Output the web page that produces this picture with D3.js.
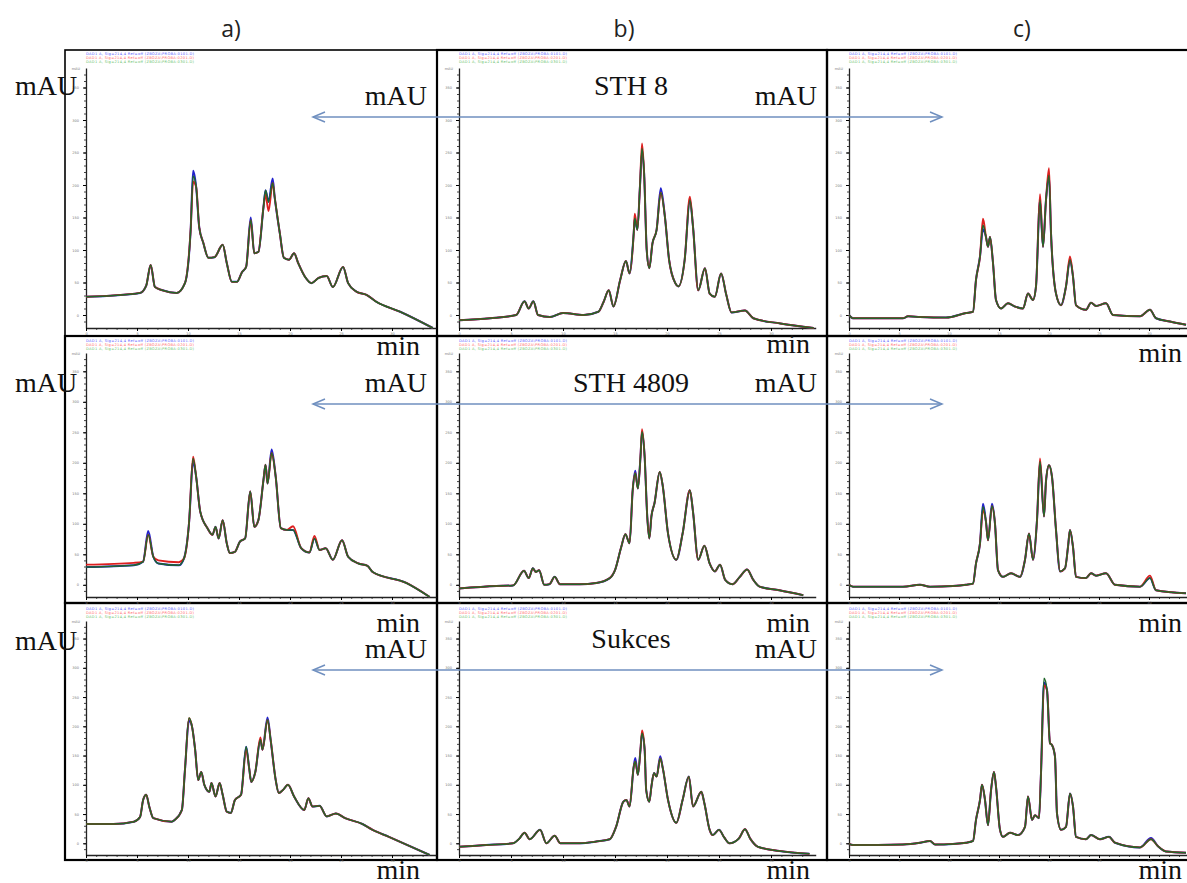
<!DOCTYPE html>
<html>
<head>
<meta charset="utf-8">
<script src="https://cdn.jsdelivr.net/npm/d3@7"></script>
<style>
  body { margin: 0; background: #fff; }
  svg { display: block; }
  .tiny text { font-family: "DejaVu Sans", sans-serif; font-size: 3.5px; fill: #777; }
</style>
</head>
<body>
<svg id="chart" width="1187" height="883"></svg>
<script>
// labels
var columnLabels = ["a)", "b)", "c)"];
var varieties = ["STH 8", "STH 4809", "Sukces"];
var yTicks = [0, 50, 100, 150, 200, 250, 300, 350];
var xTicks = [0, 5, 10, 15, 20, 25, 30];
var legendText = [
    "DAD1 A, Sig=214,4 Ref=off (ZBOZA\\PROBA-0101.D)",
    "DAD1 A, Sig=214,4 Ref=off (ZBOZA\\PROBA-0201.D)",
    "DAD1 A, Sig=214,4 Ref=off (ZBOZA\\PROBA-0301.D)"
];

// chromatograms [time (min), signal (mAU)], row 1 = STH 8
var a1 = [[0,28],[5.3,34],[5.9,45],[6.34,77],[6.76,43],[7.5,38],[8.9,34],[9.7,49],[10.26,131],[10.5,214],[10.8,197],[11.1,135],[11.5,111],[12.0,88],[12.6,89],[13.4,108],[13.8,80],[14.3,51],[14.8,51],[15.3,66],[15.7,74],[16.15,146],[16.5,95],[16.9,97],[17.4,166],[17.6,192],[17.9,174],[18.3,203],[18.5,181],[19.0,126],[19.4,88],[19.9,85],[20.4,95],[20.8,80],[21.5,58],[22.1,49],[22.8,57],[23.6,60],[24.2,43],[25.2,74],[25.7,49],[26.5,36],[27.5,31],[28.5,20],[30.8,5],[34.0,-20]];
var b1 = [[0,-8],[3,-5],[5.5,0],[6.3,21],[6.7,10],[7.15,21],[7.6,0],[8.75,-3],[10.0,3],[12,0],[13.4,5],[13.9,20],[14.4,38],[14.85,13],[15.5,54],[16.05,83],[16.4,64],[16.8,126],[16.9,149],[17.15,131],[17.4,198],[17.6,256],[17.8,218],[18.05,100],[18.3,72],[18.6,110],[19.0,131],[19.4,188],[19.8,151],[20.2,85],[20.8,49],[21.1,44],[21.7,85],[22.2,177],[22.5,136],[23.0,38],[23.65,72],[24.1,33],[24.6,28],[25.2,64],[25.7,31],[26.2,4],[27.5,7],[28.3,-5],[30.9,-13],[34.1,-20]];
var c1 = [[0,0],[0.4,-5],[5.4,-5],[5.9,-2],[7.1,-3],[9.7,-4],[11.7,3],[12.4,5],[12.7,54],[13.1,90],[13.4,138],[13.7,120],[13.9,105],[14.1,120],[14.4,80],[14.7,23],[15.2,10],[15.9,18],[16.6,13],[17.4,10],[17.9,33],[18.4,23],[18.7,44],[19.1,177],[19.4,105],[19.7,177],[20.0,215],[20.2,126],[20.7,33],[21.2,15],[21.7,44],[22.1,85],[22.4,59],[22.7,15],[23.7,8],[24.2,19],[24.7,14],[25.7,18],[26.4,0],[29.1,-2],[30.1,8],[30.7,-5],[32.1,-10],[33.7,-15]];
// row 2 = STH 4809
var a2 = [[0,29],[4.7,32],[5.6,38],[6.1,82],[6.6,46],[7.1,35],[9.1,32],[9.6,43],[10.1,101],[10.5,207],[10.8,177],[11.2,120],[11.9,93],[12.4,82],[12.7,95],[13.0,76],[13.4,106],[13.8,68],[14.1,52],[14.6,54],[15.1,71],[15.6,76],[16.1,153],[16.5,95],[16.9,106],[17.4,172],[17.6,197],[17.8,166],[18.2,216],[18.6,177],[19.1,93],[19.7,90],[20.3,90],[21.1,60],[21.9,53],[22.4,76],[22.9,57],[23.5,60],[24.2,41],[25.1,73],[25.7,46],[26.7,35],[27.6,31],[28.1,21],[31.4,3],[33.7,-20]];
var b2 = [[0,-6],[3.6,-2],[5.2,-1],[6.25,23],[6.7,11],[7.1,27],[7.4,21],[7.7,24],[8.2,0],[8.7,1],[9.2,13],[9.7,1],[11.6,1],[13.2,3],[14.5,11],[15.0,24],[15.6,62],[16.0,83],[16.4,68],[16.7,155],[16.95,183],[17.2,158],[17.45,210],[17.6,251],[17.85,210],[18.1,112],[18.3,76],[18.5,112],[18.8,134],[19.3,185],[19.6,161],[20.1,84],[20.9,41],[21.5,84],[22.2,155],[22.5,120],[23.0,41],[23.6,64],[24.1,35],[24.6,22],[25.1,33],[25.6,8],[26.3,1],[27.0,13],[27.7,25],[28.3,8],[28.9,-3],[30.8,-9],[33.1,-17]];
var c2 = [[0,0],[0.4,-3],[5.4,-3],[7.1,0],[8.1,-3],[10.4,-2],[11.7,0],[12.4,2],[12.7,35],[13.1,68],[13.4,128],[13.7,103],[13.9,73],[14.3,129],[14.6,100],[14.9,24],[15.4,13],[16.2,19],[17.1,13],[17.6,41],[18.0,84],[18.4,41],[18.8,106],[19.1,202],[19.5,112],[19.7,170],[20.0,196],[20.3,177],[20.7,90],[21.1,22],[21.6,27],[21.9,62],[22.1,90],[22.4,62],[22.7,13],[23.7,11],[24.2,19],[24.7,15],[25.7,19],[26.6,0],[29.1,-3],[30.1,11],[30.7,-9],[33.7,-14]];
// row 3 = Sukces
var a3 = [[0,33],[2.7,33],[4.7,37],[5.3,45],[5.6,74],[5.9,83],[6.2,63],[6.6,43],[8.4,37],[8.7,40],[9.4,57],[9.7,125],[10.1,214],[10.4,199],[10.7,160],[11.0,108],[11.3,122],[11.6,100],[12.1,88],[12.3,103],[12.7,80],[13.1,103],[13.4,83],[13.8,54],[14.2,52],[14.6,74],[15.2,83],[15.7,165],[16.0,128],[16.2,105],[16.6,122],[17.1,177],[17.3,160],[17.8,211],[18.1,177],[18.6,108],[18.9,86],[19.3,91],[19.8,100],[20.4,80],[21.4,57],[21.8,77],[22.2,63],[22.9,64],[23.6,46],[24.5,51],[25.4,43],[27.1,33],[28.1,23],[29.7,11],[33.7,-20]];
var b3 = [[0,-6],[2.6,-3],[5.2,0],[5.8,8],[6.3,18],[6.8,7],[7.8,23],[8.4,0],[9.2,13],[9.75,0],[11.6,0],[13.2,3],[14.5,7],[15.1,28],[15.8,71],[16.1,74],[16.4,63],[16.8,131],[16.95,140],[17.2,117],[17.45,160],[17.6,188],[17.85,160],[18.0,91],[18.3,71],[18.5,97],[18.75,120],[19.0,114],[19.35,145],[19.6,128],[20.1,74],[20.9,35],[21.5,74],[22.1,114],[22.5,63],[23.3,88],[23.6,68],[24.1,23],[24.4,14],[25.0,23],[25.5,10],[26.0,0],[26.9,8],[27.5,24],[28.0,8],[28.75,-6],[30.8,-13],[33.7,-18]];
var c3 = [[0,-1],[0.4,-3],[5.4,-2],[7.1,1],[8.1,4],[8.6,-2],[10.4,-1],[11.7,1],[12.4,4],[12.7,40],[13.1,74],[13.3,100],[13.6,74],[13.9,31],[14.2,90],[14.5,122],[14.7,97],[15.1,23],[15.4,11],[16.1,18],[16.9,14],[17.6,28],[17.9,80],[18.3,40],[18.6,48],[19.0,43],[19.2,120],[19.5,282],[19.8,262],[20.1,171],[20.3,168],[20.6,148],[20.8,51],[21.2,23],[21.7,28],[22.1,85],[22.4,63],[22.7,11],[23.7,7],[24.2,14],[25.1,7],[26.0,11],[26.6,1],[29.1,-7],[30.2,7],[30.9,-5],[31.7,-14],[33.7,-16]];

// where the blue and red runs part from the green one
var a1Blue = [[10.5,222],[16.15,150],[18.3,210]], a1Red = [[10.5,205],[17.6,185],[17.9,160]];
var b1Blue = [[17.6,250],[19.4,195]], b1Red = [[16.9,156],[17.6,264],[22.2,182]];
var c1Blue = [[13.4,132]], c1Red = [[13.4,148],[19.1,186],[20.0,226],[22.1,90]];
var a2Blue = [[6.1,88],[10.5,202],[18.2,222]], a2Red = [[0,33],[4.7,36],[7.1,40],[9.1,37],[10.5,210],[20.3,96],[22.4,80]];
var b2Blue = [[16.95,187]], b2Red = [[17.6,255]];
var c2Blue = [[13.4,133],[14.3,133]], c2Red = [[13.4,122],[19.1,207],[30.1,15]];
var a3Blue = [[10.1,210],[17.8,215]], a3Red = [[15.7,160],[17.1,181]];
var b3Blue = [[16.95,146],[19.35,149]], b3Red = [[17.6,193]];
var c3Blue = [[19.5,275],[30.2,9]], c3Red = [[19.5,270]];

var traces = [
    [[a1, a1Blue, a1Red], [b1, b1Blue, b1Red], [c1, c1Blue, c1Red]],
    [[a2, a2Blue, a2Red], [b2, b2Blue, b2Red], [c2, c2Blue, c2Red]],
    [[a3, a3Blue, a3Red], [b3, b3Blue, b3Red], [c3, c3Blue, c3Red]]
];

function withOverrides(main, over) {
    return main.map(function(d) {
        var o = over.find(function(p) { return p[0] === d[0]; });
        return [d[0], o ? o[1] : d[1]];
    });
}

var svg = d3.select("#chart");
var serif = "'Liberation Serif', 'Times New Roman', serif";

var boxCols = [[65, 437], [437, 827], [827, 1192]];
var boxRows = [[50, 336], [336, 603], [603, 860]];
var plotCols = [{x0: 86, k: 10.2}, {x0: 459, k: 10.4}, {x0: 849, k: 10.0}];
var plotRows = [{top: 68, bottom: 328}, {top: 353, bottom: 597}, {top: 621, bottom: 855}];
var legendY = [52, 339, 607];

// panel frames
boxRows.forEach(function(r, ri) {
    boxCols.forEach(function(c, ci) {
        svg.append("rect")
            .attr("x", c[0]).attr("y", r[0])
            .attr("width", c[1] - c[0]).attr("height", r[1] - r[0])
            .attr("fill", "none")
            .attr("stroke", "#000")
            .attr("stroke-width", ri === 0 && ci === 0 ? 1.6 : 2.2);
    });
});

plotRows.forEach(function(rf, ri) {
    plotCols.forEach(function(cf, ci) {
        var xMax = 34.3;
        var x = d3.scaleLinear().domain([0, xMax]).range([cf.x0, cf.x0 + xMax * cf.k]);
        var y = d3.scaleLinear().domain([-20, 380]).range([rf.bottom, rf.top]);
        var g = svg.append("g");

        // tiny run legend
        g.selectAll("text.leg")
            .data(legendText)
            .enter()
            .append("text")
            .attr("x", cf.x0)
            .attr("y", function(d, i) { return legendY[ri] + 3 + i * 4; })
            .attr("font-family", "DejaVu Sans, sans-serif")
            .attr("font-size", 3.6)
            .attr("textLength", 108)
            .attr("fill", function(d, i) { return ["#5a5aff", "#ff6a6a", "#6cbf6c"][i]; })
            .text(function(d) { return d; });

        // y axis: minor then major
        g.append("g")
            .attr("transform", "translate(" + cf.x0 + ",0)")
            .call(d3.axisLeft(y).tickValues(d3.range(-10, 380, 10)).tickSize(2).tickSizeOuter(0).tickFormat(""))
            .call(function(s) { s.select(".domain").remove(); s.selectAll("line").attr("stroke", "#444"); });
        var ya = g.append("g")
            .attr("class", "tiny")
            .attr("transform", "translate(" + cf.x0 + ",0)")
            .call(d3.axisLeft(y).tickValues(yTicks).tickSize(3).tickSizeOuter(0).tickPadding(4));
        ya.select(".domain").attr("stroke", "#222").attr("stroke-width", 1.3);
        ya.append("text").attr("x", -6).attr("y", rf.top + 2).text("mAU");

        // x axis
        g.append("g")
            .attr("transform", "translate(0," + rf.bottom + ")")
            .call(d3.axisBottom(x).tickValues(d3.range(1, 34, 1)).tickSize(2).tickSizeOuter(0).tickFormat(""))
            .call(function(s) { s.select(".domain").remove(); s.selectAll("line").attr("stroke", "#555"); });
        var xa = g.append("g")
            .attr("class", "tiny")
            .attr("transform", "translate(0," + rf.bottom + ")")
            .call(d3.axisBottom(x).tickValues(xTicks).tickSize(3).tickSizeOuter(0).tickPadding(2));
        xa.select(".domain").attr("stroke", "#222").attr("stroke-width", 1.3);

        // three overlaid runs
        var line = d3.line()
            .x(function(d) { return x(d[0]); })
            .y(function(d) { return y(d[1]); })
            .curve(d3.curveMonotoneX);
        var t = traces[ri][ci];
        g.append("path").attr("d", line(withOverrides(t[0], t[1])))
            .attr("fill", "none").attr("stroke", "#2222cc").attr("stroke-width", 2);
        g.append("path").attr("d", line(withOverrides(t[0], t[2])))
            .attr("fill", "none").attr("stroke", "#dd2020").attr("stroke-width", 1.9);
        g.append("path").attr("d", line(t[0]))
            .attr("fill", "none").attr("stroke", "#21662a").attr("stroke-width", 1.5);
    });
});

// column captions
svg.selectAll("text.col")
    .data(columnLabels)
    .enter()
    .append("text")
    .attr("x", function(d, i) { return [231, 624, 1022][i]; })
    .attr("y", 37)
    .attr("text-anchor", "middle")
    .attr("font-family", "'Open Sans', sans-serif")
    .attr("font-size", 23)
    .attr("fill", "#222")
    .text(function(d) { return d; });

// variety names
svg.selectAll("text.var")
    .data(varieties)
    .enter()
    .append("text")
    .attr("x", 631)
    .attr("y", function(d, i) { return [95, 392, 648][i]; })
    .attr("text-anchor", "middle")
    .attr("font-family", serif)
    .attr("font-size", 28)
    .attr("fill", "#111")
    .text(function(d) { return d; });

// axis unit labels
var mauLeftY = [95, 392, 650];
var mauInY = [105, 392, 658];
var minY = [[355, 353, 362], [632, 632, 632], [879, 879, 879]];
mauLeftY.forEach(function(yy) {
    svg.append("text").attr("x", 15).attr("y", yy)
        .attr("font-family", serif).attr("font-size", 28).attr("fill", "#111").text("mAU");
});
mauInY.forEach(function(yy) {
    [427, 817].forEach(function(xx) {
        svg.append("text").attr("x", xx).attr("y", yy).attr("text-anchor", "end")
            .attr("font-family", serif).attr("font-size", 28).attr("fill", "#111").text("mAU");
    });
});
minY.forEach(function(row) {
    row.forEach(function(yy, ci) {
        svg.append("text").attr("x", [420, 810, 1182][ci]).attr("y", yy).attr("text-anchor", "end")
            .attr("font-family", serif).attr("font-size", 28).attr("fill", "#111").text("min");
    });
});

// double arrows linking the panels
[117, 404, 670].forEach(function(yy) {
    var a = svg.append("g").attr("stroke", "#6f8fbf").attr("stroke-width", 1.5).attr("fill", "none");
    a.append("line").attr("x1", 313).attr("x2", 942).attr("y1", yy).attr("y2", yy);
    a.append("path").attr("d", "M325," + (yy - 5) + " L313," + yy + " L325," + (yy + 5));
    a.append("path").attr("d", "M930," + (yy - 5) + " L942," + yy + " L930," + (yy + 5));
});
</script>
</body>
</html>
